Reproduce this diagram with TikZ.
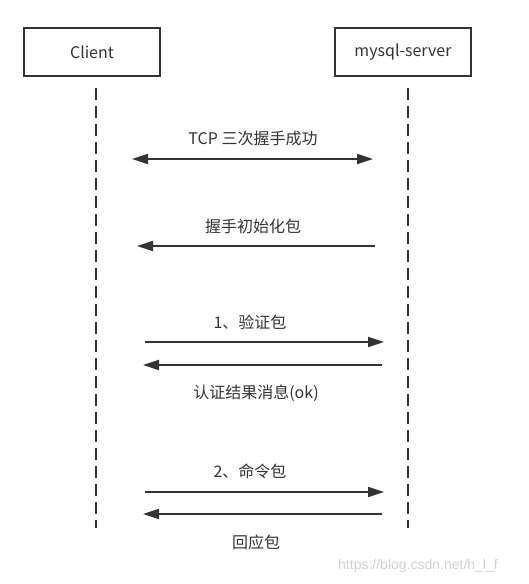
\documentclass[tikz,border=0pt]{standalone}
\usepackage{fontspec}
\setmainfont{Noto Sans CJK SC}
\newfontfamily\wmfont{Liberation Sans}
\usetikzlibrary{arrows.meta}
\definecolor{ink}{HTML}{333333}
\definecolor{wm}{HTML}{D0D0D0}
\begin{document}
\begin{tikzpicture}[x=1pt,y=-1pt,
  actor/.style={draw=ink,line width=2pt,minimum width=136pt,minimum height=48pt,inner sep=0pt,font=\fontsize{16}{19}\selectfont,text=ink},
  lifeline/.style={draw=ink,line width=2.6pt,dash pattern=on 12pt off 6pt},
  msg/.style={draw=ink,line width=2pt,-{Triangle[length=16pt,width=10pt]}},
  bimsg/.style={draw=ink,line width=2pt,{Triangle[length=16pt,width=10pt]}-{Triangle[length=16pt,width=10pt]}},
  lbl/.style={font=\fontsize{16}{19}\selectfont,text=ink,inner sep=0pt}]
\useasboundingbox (0,0) rectangle (528,584);
\node[actor] (client) at (92,52) {Client};
\node[actor] (server) at (403,52) {mysql-server};
\coordinate (c0) at (96,88); \coordinate (c1) at (96,528);
\coordinate (s0) at (408,88); \coordinate (s1) at (408,528);
\draw[lifeline] (c0) -- (c1);
\draw[lifeline] (s0) -- (s1);
% TCP
\coordinate (a1l) at (132,159); \coordinate (a1r) at (373,159);
\draw[bimsg] (a1l) -- (a1r);
\node[lbl] (t1) at (253,138) {TCP 三次握手成功};
% handshake init
\coordinate (a2r) at (375,246); \coordinate (a2l) at (137,246);
\draw[msg] (a2r) -- (a2l);
\node[lbl] (t2) at (253,226) {握手初始化包};
% auth
\coordinate (a3l) at (145,342); \coordinate (a3r) at (384,342);
\draw[msg] (a3l) -- (a3r);
\node[lbl] (t3) at (250,322) {1、验证包};
\coordinate (a4r) at (382,365); \coordinate (a4l) at (143,365);
\draw[msg] (a4r) -- (a4l);
\node[lbl] (t4) at (256,393) {认证结果消息(ok)};
% command
\coordinate (a5l) at (145,492); \coordinate (a5r) at (384,492);
\draw[msg] (a5l) -- (a5r);
\node[lbl] (t5) at (250,471) {2、命令包};
\coordinate (a6r) at (382,514); \coordinate (a6l) at (143,514);
\draw[msg] (a6r) -- (a6l);
\node[lbl] (t6) at (256,542) {回应包};
\node[font=\wmfont\fontsize{14}{16}\selectfont,text=wm,inner sep=0pt,anchor=west] (wm) at (338,566) {https://blog.csdn.net/h\_l\_f};
\end{tikzpicture}
\end{document}
